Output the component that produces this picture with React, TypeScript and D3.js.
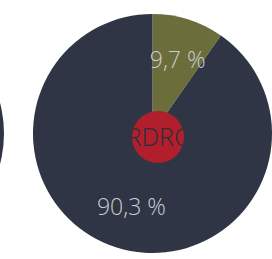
import { useEffect, useRef } from 'react'
import * as d3 from 'd3'

// Main pie: share of each category (percent)
const categories = ['A', 'B']
const values = [9.7, 90.3]
const labels = ['9,7 %', '90,3 %']
const colors = ['#6b6d3b', '#2f3544']

// Neighbouring pie, only its right edge is visible
const neighbourValues = [100]
const neighbourColors = ['#2f3544']

const centerLabel = 'RDRC'

const App = () => {
  const svgRef = useRef<SVGSVGElement | null>(null)
  const width = 272
  const height = 259
  const radius = 119.5
  const cx = 152.5
  const cy = 133.5

  useEffect(() => {
    const svgEl = d3.select(svgRef.current)
    svgEl.selectAll('*').remove()

    const pie = d3
      .pie<number>()
      .sort(null)
      .value((d) => d)
    const arc = d3.arc<d3.PieArcDatum<number>>().innerRadius(0).outerRadius(radius)
    const labelArc = d3
      .arc<d3.PieArcDatum<number>>()
      .innerRadius(radius * 0.645)
      .outerRadius(radius * 0.645)

    // Neighbour pie cut off on the left
    const left = svgEl.append('g').attr('transform', `translate(${cx - 268},${cy})`)
    left
      .selectAll('path')
      .data(pie(neighbourValues))
      .enter()
      .append('path')
      .attr('d', arc)
      .attr('fill', (d, i) => neighbourColors[i])

    // Main pie
    const g = svgEl.append('g').attr('transform', `translate(${cx},${cy})`)
    const arcs = pie(values)
    g.selectAll('.slice')
      .data(arcs)
      .enter()
      .append('path')
      .attr('class', 'slice')
      .attr('d', arc)
      .attr('fill', (d, i) => colors[i])

    // Percent labels
    g.selectAll('.label')
      .data(arcs)
      .enter()
      .append('text')
      .attr('class', 'label')
      .attr('transform', (d) => {
        const [x, y] = labelArc.centroid(d)
        return `translate(${x + 2},${y})`
      })
      .attr('text-anchor', 'middle')
      .attr('dy', '0.35em')
      .style('fill', '#c9ccd2')
      .style('font-family', '"Open Sans", sans-serif')
      .style('font-weight', '300')
      .style('font-size', '23px')
      .text((d, i) => labels[i])

    // Red centre badge, text clipped to the circle
    const badgeR = 26
    const bx = 5.5
    const by = 3.5
    const defs = svgEl.append('defs')
    defs
      .append('clipPath')
      .attr('id', 'badge-clip')
      .append('circle')
      .attr('cx', bx)
      .attr('cy', by)
      .attr('r', badgeR)
    g.append('circle')
      .attr('cx', bx)
      .attr('cy', by)
      .attr('r', badgeR)
      .attr('fill', '#b01f2b')
    g.append('text')
      .attr('clip-path', 'url(#badge-clip)')
      .attr('x', bx)
      .attr('y', by + 9)
      .attr('text-anchor', 'middle')
      .style('fill', '#2a2f3c')
      .style('font-family', '"Open Sans", sans-serif')
      .style('font-weight', '300')
      .style('font-size', '25px')
      .text(centerLabel)
  }, [])

  return (
    <svg
      ref={svgRef}
      width={width}
      height={height}
      style={{ position: 'absolute', left: 0, top: 0, background: '#fff' }}
      data-categories={categories.join(',')}
    />
  )
}

export default App
